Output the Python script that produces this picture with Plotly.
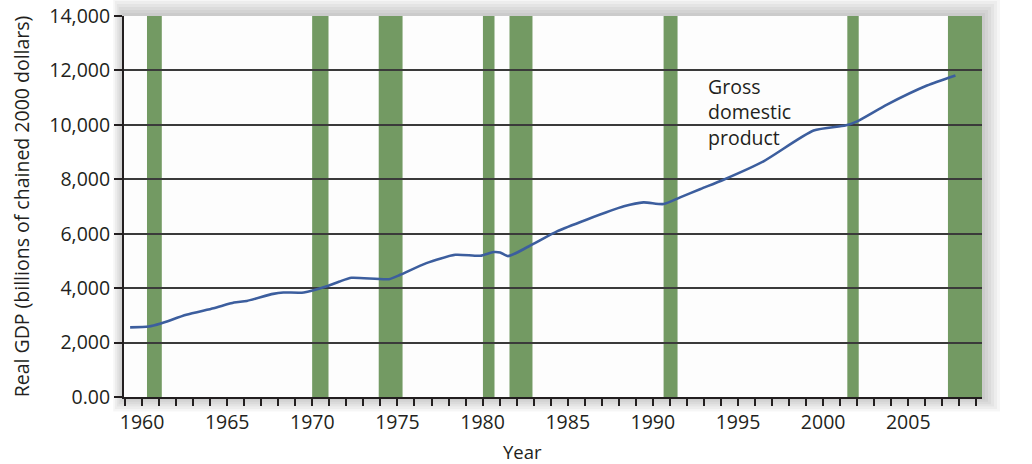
import plotly.graph_objects as go

# ---- data ----
gdp_year = [1959.3, 1960.4, 1961.1, 1962.6, 1964.2, 1965.4, 1966.15, 1967.7, 1968.3, 1969.5,
            1970.85, 1971.6, 1972.3, 1974.5, 1975.16, 1976.7, 1978.4, 1979.86, 1980.64, 1981.03,
            1981.5, 1982.7, 1984.37, 1986.1, 1988.3, 1989.45, 1990.63, 1991.6, 1992.8, 1994.15,
            1996.5, 1999.44, 2001.3, 2002.0, 2003.75, 2006.1, 2007.77]
gdp_value = [2560, 2590, 2700, 3020, 3260, 3470, 3530, 3790, 3840, 3840,
             4070, 4245, 4380, 4330, 4490, 4920, 5225, 5190, 5325, 5310,
             5175, 5530, 6085, 6515, 7005, 7150, 7090, 7335, 7645, 7985,
             8660, 9790, 9975, 10130, 10745, 11445, 11815]

recession_start = [1960.29, 1969.99, 1973.9, 1980.02, 1981.58, 1990.63, 2001.42, 2007.33]
recession_end = [1961.16, 1970.95, 1975.3, 1980.7, 1982.93, 1991.45, 2002.09, 2009.33]

y_ticks = [0, 2000, 4000, 6000, 8000, 10000, 12000, 14000]
y_tick_text = ["0.00", "2,000", "4,000", "6,000", "8,000", "10,000", "12,000", "14,000"]
x_ticks = [1960, 1965, 1970, 1975, 1980, 1985, 1990, 1995, 2000, 2005]

FONT = "Open Sans"
BAND = "#739a63"
LINE = "#3c5e9e"
INK = "#231f20"

fig = go.Figure()
fig.add_trace(go.Scatter(x=gdp_year, y=gdp_value, mode="lines",
                         line=dict(color=LINE, width=2.6, shape="spline", smoothing=0.6),
                         hoverinfo="skip", showlegend=False))

shapes = []
# soft drop shadow around plot area
W, H = 858.0, 381.0
for k in range(6, 0, -1):
    dx = 3.0 * k / W
    dy = 3.0 * k / H
    shapes.append(dict(type="rect", xref="paper", yref="paper",
                       x0=-dx * 0.6, x1=1 + dx, y0=-dy * 0.8, y1=1 + dy,
                       fillcolor="rgba(0,0,0,0.035)", line=dict(width=0), layer="below"))
shapes.append(dict(type="rect", xref="paper", yref="paper", x0=0, x1=1, y0=0, y1=1,
                   fillcolor="#fdfdfd", line=dict(width=0), layer="below"))
for s, e in zip(recession_start, recession_end):
    shapes.append(dict(type="rect", xref="x", yref="paper", x0=s, x1=e, y0=0, y1=1,
                       fillcolor=BAND, line=dict(width=0), layer="between"))

fig.update_layout(
    width=1032, height=464,
    margin=dict(l=124, r=50, t=16, b=67),
    paper_bgcolor="#ffffff",
    plot_bgcolor="#fdfdfd",
    font=dict(family=FONT, size=19.5, color=INK),
    shapes=shapes,
    showlegend=False,
)
fig.update_xaxes(range=[1958.94, 2009.33], tickvals=x_ticks, ticks="outside", ticklen=7,
                 tickwidth=1.5, tickcolor=INK, showgrid=False, zeroline=False,
                 showline=True, linecolor=INK, linewidth=2, automargin=False,
                 minor=dict(dtick=1, tick0=1959, ticks="outside", ticklen=7, tickwidth=1.5,
                            tickcolor=INK, showgrid=False),
                 tickfont=dict(family=FONT, size=19.5))
fig.update_yaxes(range=[0, 14000], tickvals=y_ticks, ticktext=y_tick_text, ticks="outside",
                 ticklen=8, tickwidth=1.5, tickcolor=INK, automargin=False,
                 ticklabeloverflow="allow",
                 showgrid=True, gridcolor="#3a3a3a", gridwidth=1.5, zeroline=False,
                 showline=True, linecolor=INK, linewidth=2,
                 tickfont=dict(family=FONT, size=19.5),
                 title=dict(text="Real GDP (billions of chained 2000 dollars)",
                            font=dict(family=FONT, size=19.5), standoff=14))

fig.add_annotation(x=1993.1, y=10490, xref="x", yref="y", xanchor="left", yanchor="middle",
                   align="left", showarrow=False, text="Gross<br>domestic<br>product",
                   font=dict(family=FONT, size=19.5, color=INK))
fig.add_annotation(x=0.465, y=-0.143, xref="paper", yref="paper", xanchor="center",
                   yanchor="middle", showarrow=False, text="Year",
                   font=dict(family=FONT, size=18.5, color=INK))

fig.write_html("out.html", config={"displayModeBar": False},
               post_script="document.body.style.margin='0';")
